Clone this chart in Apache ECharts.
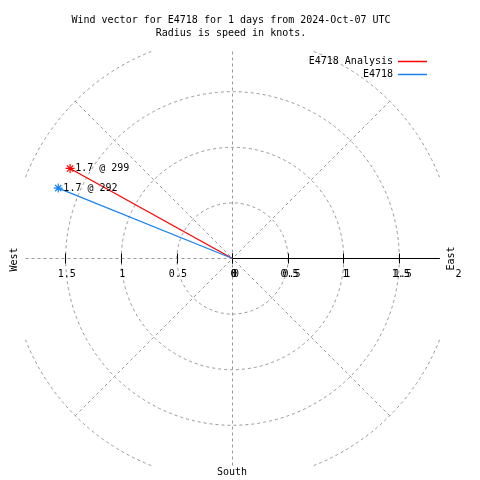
<!DOCTYPE html>
<html>
<head>
<meta charset="utf-8">
<script src="https://cdn.jsdelivr.net/npm/echarts@6/dist/echarts.min.js"></script>
<style>html,body{margin:0;padding:0;background:#fff}#c{width:480px;height:480px}</style>
</head>
<body>
<div id="c"></div>
<script>
// ---- data ----
const categories = ['E4718 Analysis', 'E4718'];
const speeds = [1.67, 1.69];          // radius (knots)
const directions = [299, 292];        // degrees, compass
const seriesColors = ['#ff0000', '#1a82f0'];
const radiusTicks = [0, 0.5, 1, 1.5];
const outerTicks = [0, 0.5, 1, 1.5, 2];
const compassNames = ['West', 'East', 'South'];
const titleLines = ['Wind vector for E4718 for 1 days from 2024-Oct-07 UTC', 'Radius is speed in knots.'];

// ---- layout / style ----
const FONT = 'DejaVu Sans Mono';
const GRAY = '#999999';
const CX = 232.5, CY = 258.5, UNIT = 111.2, HALF = 207;
const RMAX = HALF / UNIT, ROUT = 2 * UNIT;
const DASH = {color: GRAY, width: 1, type: [3, 3]};
const STAR = 'path://M5,0L5,10M0,5L10,5M1.5,1.5L8.5,8.5M8.5,1.5L1.5,8.5';
const txt = {fontFamily: FONT, fontSize: 10, color: '#000'};

const polars = [], angleAxes = [], radiusAxes = [];
function addPolar(radius, angle, rad) {
  const idx = polars.length;
  polars.push({center: [CX, CY], radius: radius});
  angleAxes.push(Object.assign({polarIndex: idx, type: 'value', axisLine: {show: false}, axisTick: {show: false},
    axisLabel: {show: false}, splitLine: {show: false}, silent: true}, angle));
  radiusAxes.push(Object.assign({polarIndex: idx, type: 'value', min: 0, axisLine: {show: false}, axisTick: {show: false},
    axisLabel: {show: false}, splitLine: {show: false}, silent: true}, rad));
  return idx;
}

// 0: main polar (data, east axis, cardinal spokes, inner circles)
addPolar(HALF,
  {min: 90, max: 450, interval: 90, startAngle: 0, clockwise: true, splitLine: {show: true, lineStyle: DASH}},
  {max: RMAX, interval: 0.5,
   axisLine: {show: true, lineStyle: {color: '#000', width: 1}},
   axisTick: {show: true, length: 5, customValues: radiusTicks, lineStyle: {color: '#000', width: 1}},
   axisLabel: {show: true, customValues: radiusTicks, margin: -11, verticalAlign: 'top', align: 'center', padding: [0, 0, 0, 3], ...txt},
   splitLine: {show: true, lineStyle: DASH}});
// 1: second east label set (0..2), lower ticks
addPolar(ROUT,
  {min: 0, max: 360, startAngle: 0},
  {max: 2, interval: 0.5,
   axisTick: {show: true, length: -5, customValues: radiusTicks, lineStyle: {color: '#000', width: 1}},
   axisLabel: {show: true, customValues: outerTicks, margin: -11, verticalAlign: 'top', align: 'center', padding: [0, 0, 0, 7], ...txt}});
// 2: west labels, lower ticks
addPolar(HALF,
  {min: 0, max: 360, startAngle: 180},
  {max: RMAX, interval: 0.5,
   axisTick: {show: true, length: 5, customValues: radiusTicks, lineStyle: {color: '#000', width: 1}},
   axisLabel: {show: true, customValues: radiusTicks, margin: 11, verticalAlign: 'top', align: 'center', padding: [0, 0, 0, 2], ...txt}});
// 3: west upper ticks
addPolar(HALF,
  {min: 0, max: 360, startAngle: 180},
  {max: RMAX, interval: 0.5,
   axisTick: {show: true, length: -5, customValues: radiusTicks, lineStyle: {color: '#000', width: 1}}});
// 4: diagonal spokes
addPolar(ROUT,
  {min: 0, max: 360, interval: 90, startAngle: 45, splitLine: {show: true, lineStyle: DASH}},
  {max: 2});
// 5-8: outer circle (r = 2) arcs clipped to the square plot area
const phi = Math.acos(HALF / ROUT) * 180 / Math.PI;
[0, 90, 180, 270].forEach(q => {
  addPolar(ROUT,
    {min: 0, max: 1, startAngle: q + 90 - phi, endAngle: q + phi, clockwise: true, axisLine: {show: true, lineStyle: DASH}},
    {max: 2});
});

const series = categories.map((name, i) => ({
  type: 'line', name: name, coordinateSystem: 'polar', polarIndex: 0,
  data: [
    {value: [0, directions[i]], symbol: 'none'},
    {value: [speeds[i], directions[i]], label: {show: true}}
  ],
  symbol: STAR, symbolSize: 9, showSymbol: true,
  lineStyle: {color: seriesColors[i], width: 1.3},
  itemStyle: {color: seriesColors[i], borderColor: seriesColors[i], borderWidth: 1.2},
  label: {show: false, position: 'right', distance: 0, ...txt,
          formatter: p => p.value[0].toFixed(1) + ' @ ' + p.value[1]},
  emphasis: {disabled: true}, silent: true, z: 5
}));

const chart = echarts.init(document.getElementById('c'), null, {renderer: 'canvas'});
chart.setOption({
  animation: false,
  backgroundColor: '#fff',
  title: {text: titleLines.join('\n'), left: 231, top: 14, textAlign: 'center', padding: 0,
          textStyle: {fontFamily: FONT, fontSize: 10, fontWeight: 'normal', color: '#000', lineHeight: 13}},
  legend: categories.map((c, i) => ({
    data: [c], right: 53, top: 56.5 + i * 13, align: 'right', padding: 0, itemWidth: 29, itemHeight: 1.5,
    icon: 'rect', selectedMode: false, textStyle: txt,
    itemStyle: {color: seriesColors[i], borderWidth: 0}, lineStyle: {width: 0}
  })),
  polar: polars, angleAxis: angleAxes, radiusAxis: radiusAxes,
  series: series,
  graphic: [
    {type: 'text', x: 14, y: 259.5, rotation: Math.PI / 2, silent: true,
     style: {text: compassNames[0], font: '10px "' + FONT + '"', fill: '#000', align: 'center', verticalAlign: 'middle', textAlign: 'center', textVerticalAlign: 'middle'}},
    {type: 'text', x: 451, y: 258.5, rotation: Math.PI / 2, silent: true,
     style: {text: compassNames[1], font: '10px "' + FONT + '"', fill: '#000', align: 'center', verticalAlign: 'middle', textAlign: 'center', textVerticalAlign: 'middle'}},
    {type: 'text', x: 232, y: 472, silent: true,
     style: {text: compassNames[2], font: '10px "' + FONT + '"', fill: '#000', align: 'center', verticalAlign: 'middle', textAlign: 'center', textVerticalAlign: 'middle'}}
  ]
});
</script>
</body>
</html>
